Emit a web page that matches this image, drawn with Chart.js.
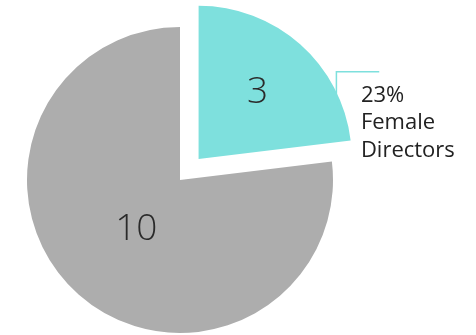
<!DOCTYPE html>
<html>
<head>
<meta charset="utf-8">
<script src="https://cdn.jsdelivr.net/npm/chart.js@4/dist/chart.umd.min.js"></script>
<style>
    html, body { margin: 0; padding: 0; background: #fff; }
    #wrap { width: 476px; height: 335px; position: relative; }
</style>
</head>
<body>
<div id="wrap"><canvas id="directorsChart"></canvas></div>
<script>
const categories = ['Female Directors', 'Other Directors'];
const directorCounts = [3, 10];
const calloutLines = ['23%', 'Female', 'Directors'];

const sliceColors = ['#7ee0dd', '#adadad'];
const sliceOffsets = [112, 0];
const labelRadius = [0.58, 0.43];
const fontFamily = '"Open Sans", Lato, sans-serif';

// replicates the shift ArcElement applies for options.offset
function sliceShift(arc, offset) {
    const mid = (arc.startAngle + arc.endAngle) / 2;
    const fix = 1 - Math.sin(Math.min(Math.PI, arc.circumference || 0));
    const d = offset / 4 * (1 + fix);
    return { x: arc.x + Math.cos(mid) * d, y: arc.y + Math.sin(mid) * d, mid: mid };
}

const sliceText = {
    id: 'sliceText',
    afterDatasetsDraw(chart) {
        const ctx = chart.ctx;
        const arcs = chart.getDatasetMeta(0).data;
        ctx.save();

        arcs.forEach(function(arc, i) {
            const c = sliceShift(arc, sliceOffsets[i]);
            const r = arc.outerRadius * labelRadius[i];
            ctx.font = '300 37px ' + fontFamily;
            ctx.fillStyle = '#2a2a2a';
            ctx.textAlign = 'center';
            ctx.textBaseline = 'middle';
            ctx.fillText(String(directorCounts[i]), c.x + Math.cos(c.mid) * r, c.y + Math.sin(c.mid) * r);
        });

        // callout for the highlighted slice
        const first = arcs[0];
        const c = sliceShift(first, sliceOffsets[0]);
        const R = first.outerRadius;
        const lx = c.x + R * 0.9;
        const ly = c.y - R * 0.57;
        ctx.strokeStyle = sliceColors[0];
        ctx.lineWidth = 1.5;
        ctx.beginPath();
        ctx.moveTo(lx, c.y - R * 0.35);
        ctx.lineTo(lx, ly);
        ctx.lineTo(c.x + R * 1.18, ly);
        ctx.stroke();

        ctx.font = '22px ' + fontFamily;
        ctx.fillStyle = '#222';
        ctx.textAlign = 'left';
        ctx.textBaseline = 'alphabetic';
        calloutLines.forEach(function(line, i) {
            ctx.fillText(line, c.x + R * 1.06, ly + 30 + i * 27.5);
        });
        ctx.restore();
    }
};

new Chart(document.getElementById('directorsChart'), {
    type: 'pie',
    data: {
        labels: categories,
        datasets: [{
            data: directorCounts,
            backgroundColor: sliceColors,
            borderWidth: 0,
            offset: sliceOffsets,
            clip: false
        }]
    },
    options: {
        responsive: true,
        maintainAspectRatio: false,
        animation: false,
        radius: 153,
        layout: { padding: { left: 0, right: 116, top: 25, bottom: 0 } },
        plugins: {
            legend: { display: false },
            tooltip: { enabled: false }
        }
    },
    plugins: [sliceText]
});
</script>
</body>
</html>
